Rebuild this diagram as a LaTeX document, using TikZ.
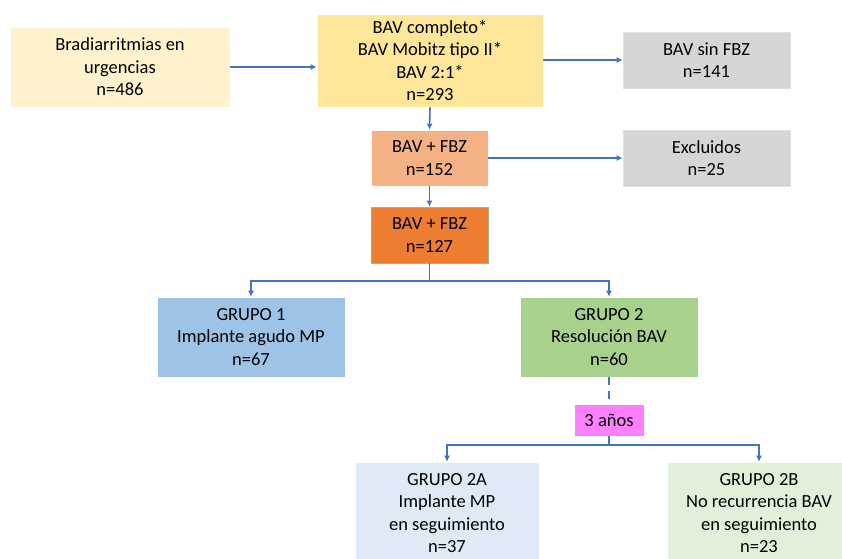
\documentclass[tikz,border=0pt]{standalone}
\usepackage{fontspec}
\setmainfont{Carlito}
\usetikzlibrary{arrows.meta}
\definecolor{flowblue}{HTML}{4472C4}
\definecolor{cream}{HTML}{FFF2CC}
\definecolor{sand}{HTML}{FFE699}
\definecolor{greybox}{HTML}{D6D6D6}
\definecolor{salmon}{HTML}{F4B183}
\definecolor{orangebox}{HTML}{ED7D31}
\definecolor{bluebox}{HTML}{9DC3E6}
\definecolor{greenbox}{HTML}{A9D18E}
\definecolor{pinkbox}{HTML}{FF80FF}
\definecolor{paleblue}{HTML}{DEEBF7}
\definecolor{palegreen}{HTML}{E2F0D9}
\begin{document}
\begin{tikzpicture}[x=1pt,y=-1pt]
   \tikzset{font={\fontsize{18.5pt}{22.5pt}\selectfont},
     box/.style={inner sep=0pt, align=center, draw=white, line width=0.6pt},
     link/.style={line width=1.6pt, flowblue},
     flow/.style={link, -{Latex[length=6pt,width=6pt]}}}
    \useasboundingbox (0,0) rectangle (842,558);
    % first row
    \node[box, fill=cream, minimum width=220pt, minimum height=80pt] (urg) at (120,67)
      {Bradiarritmias en\\urgencias\\n=486};
    \node[box, fill=sand, minimum width=226pt, minimum height=93pt] (sel) at (430,60.5)
      {BAV completo*\\BAV Mobitz tipo II*\\BAV 2:1*\\n=293};
    \node[box, fill=greybox, draw=black!12, minimum width=167pt, minimum height=56pt] (sinfbz) at (706.5,60)
      {BAV sin FBZ\\n=141};
    % middle column
    \node[box, fill=salmon, minimum width=117pt, minimum height=56pt] (fbz) at (429.5,158)
      {BAV + FBZ\\n=152};
    \node[box, fill=greybox, draw=black!12, minimum width=167pt, minimum height=56pt] (excl) at (706.5,158)
      {Excluidos\\n=25};
    \node[box, fill=orangebox, draw=green!30!black!40, minimum width=117pt, minimum height=56pt] (fbzb) at (429.5,235)
      {BAV + FBZ\\n=127};
    % groups
    \node[box, fill=bluebox, minimum width=188pt, minimum height=80pt] (g1) at (251,337)
      {GRUPO 1\\Implante agudo MP\\n=67};
    \node[box, fill=greenbox, minimum width=178pt, minimum height=80pt] (g2) at (609,337)
      {GRUPO 2\\Resolución BAV\\n=60};
    \node[box, fill=pinkbox, minimum width=70pt, minimum height=32pt] (anos) at (609,420)
      {3 años};
    \node[box, fill=paleblue, minimum width=184pt, minimum height=102pt] (g2a) at (447,513)
      {GRUPO 2A\\Implante MP\\en seguimiento\\n=37};
    \node[box, fill=palegreen, minimum width=184pt, minimum height=102pt] (g2b) at (759,513)
      {GRUPO 2B\\No recurrencia BAV\\en seguimiento\\n=23};
    % connectors
    \coordinate (split) at (429.5,281);
    \coordinate (splitb) at (609,445);
    \draw[flow] (urg.east) -- (urg.east -| sel.west);
    \draw[flow] (sel.east |- sinfbz.west) -- (sinfbz.west);
    \draw[flow] (sel.south) -- (fbz.north);
    \draw[flow] (fbz.east |- excl.west) -- (excl.west);
    \draw[flow] (fbz.south) -- (fbzb.north);
    \draw[link] (fbzb.south) -- (split);
    \draw[flow] (split) -| (g1.north);
    \draw[flow] (split) -| (g2.north);
    \draw[link, dash pattern=on 8pt off 6pt] (g2.south) -- (anos.north);
    \draw[link] (anos.south) -- (splitb);
    \draw[flow] (splitb) -| (g2a.north);
    \draw[flow] (splitb) -| (g2b.north);
    \end{tikzpicture}
\end{document}
